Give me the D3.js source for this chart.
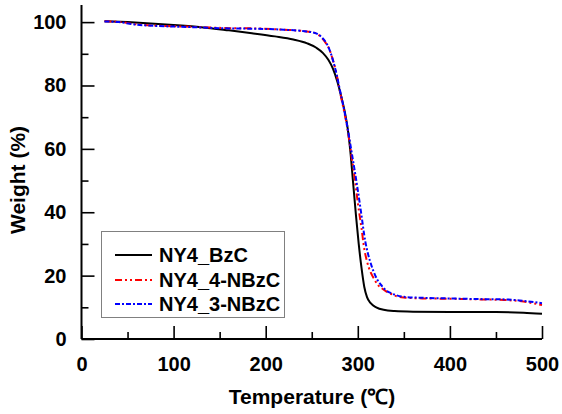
<!DOCTYPE html>
<html>
<head>
<meta charset="utf-8">
<script src="https://cdn.jsdelivr.net/npm/d3@7"></script>
<style>
  html, body { margin: 0; padding: 0; background: #fff; }
  svg { display: block; }
  text { font-family: "Liberation Sans", Arial, sans-serif; font-weight: bold; fill: #000; }
</style>
</head>
<body>
<svg id="chart" width="562" height="414"></svg>
<script>
// TGA curves: temperature (°C) vs. residual weight (%)
const seriesNames = ["NY4_BzC", "NY4_4-NBzC", "NY4_3-NBzC"];
const seriesColors = ["#000000", "#ff0000", "#0000ff"];
const seriesDash = [null, "7,3,2,3,2,3", "5,2,2,2"];

const tempBzC = [25, 50, 75, 100, 130, 160, 185, 210, 230, 245, 255, 262, 268, 273, 278, 282, 286, 289, 292, 295, 298, 301, 304, 307, 310, 314, 320, 328, 340, 360, 400, 450, 480, 500];
const weightBzC = [100.3, 100.0, 99.6, 99.1, 98.4, 97.4, 96.5, 95.5, 94.5, 93.3, 91.9, 90.3, 88.1, 85.3, 81.0, 76.5, 71.5, 66.5, 59, 49, 39, 30, 22.5, 16.5, 13.2, 11.3, 10.0, 9.2, 8.8, 8.6, 8.5, 8.5, 8.3, 8.0];

const temp4NBzC = [25, 40, 60, 80, 100, 130, 160, 190, 220, 240, 250, 256, 261, 265, 269, 273, 277, 281, 285, 289, 293, 297, 300, 304, 307, 310, 314, 318, 322, 326, 330, 335, 342, 350, 370, 400, 430, 460, 480, 500];
const weight4NBzC = [100.3, 100.1, 99.3, 98.9, 98.7, 98.4, 98.1, 98.0, 97.6, 97.2, 96.8, 96.2, 95.0, 93.5, 91.5, 88.0, 83.5, 77.5, 72.0, 66.0, 58.0, 50.0, 43.0, 35.0, 28.5, 24.5, 21.0, 18.8, 17.0, 16.0, 15.2, 14.4, 13.5, 13.1, 12.8, 12.7, 12.5, 12.3, 11.8, 10.7];

const temp3NBzC = [25, 40, 60, 80, 100, 130, 160, 190, 220, 240, 250, 256, 261, 265, 269, 273, 277, 281, 285, 289, 293, 297, 300, 304, 308, 311, 315, 319, 322, 326, 330, 335, 342, 350, 370, 400, 430, 460, 480, 500];
const weight3NBzC = [100.2, 100.0, 99.2, 98.8, 98.6, 98.3, 98.0, 97.9, 97.6, 97.2, 96.8, 96.3, 95.2, 93.8, 91.5, 88.0, 83.5, 78.0, 72.5, 66.5, 59.5, 52.5, 47.0, 39.0, 31.0, 27.0, 23.0, 20.0, 18.3, 16.8, 15.5, 14.6, 13.8, 13.3, 13.0, 12.8, 12.6, 12.5, 12.0, 11.3];

const xTicks = [0, 100, 200, 300, 400, 500];
const yTicks = [0, 20, 40, 60, 80, 100];

const series = [
  { name: seriesNames[0], color: seriesColors[0], dash: seriesDash[0], t: tempBzC, w: weightBzC },
  { name: seriesNames[1], color: seriesColors[1], dash: seriesDash[1], t: temp4NBzC, w: weight4NBzC },
  { name: seriesNames[2], color: seriesColors[2], dash: seriesDash[2], t: temp3NBzC, w: weight3NBzC }
];

const svg = d3.select("#chart");
const x = d3.scaleLinear().domain([0, 500]).range([81.5, 542]);
const y = d3.scaleLinear().domain([0, 105.4]).range([339, 5]);

// curves
const line = d3.line()
  .x(d => x(d[0]))
  .y(d => y(d[1]))
  .curve(d3.curveMonotoneX);

series.forEach(s => {
  const pts = s.t.map((t, i) => [t, s.w[i]]);
  svg.append("path")
    .attr("d", line(pts))
    .attr("fill", "none")
    .attr("stroke", s.color)
    .attr("stroke-width", 2)
    .attr("stroke-dasharray", s.dash);
});

// x axis with inward ticks
const xAxisMajor = d3.axisBottom(x).tickValues(xTicks).tickSize(-13).tickPadding(18).tickFormat(d3.format("d"));
const xAxisMinor = d3.axisBottom(x).tickValues([50, 150, 250, 350, 450]).tickSize(-7).tickFormat("");
const gx = svg.append("g").attr("transform", `translate(0,${y(0)})`);
gx.call(xAxisMajor);
gx.append("g").call(xAxisMinor);

// y axis with inward ticks
const yAxisMajor = d3.axisLeft(y).tickValues(yTicks).tickSize(-13).tickPadding(15).tickFormat(d3.format("d"));
const yAxisMinor = d3.axisLeft(y).tickValues([10, 30, 50, 70, 90]).tickSize(-7).tickFormat("");
const gy = svg.append("g").attr("transform", `translate(${x(0)},0)`);
gy.call(yAxisMajor);
gy.append("g").call(yAxisMinor);

svg.selectAll(".domain").remove();
svg.selectAll(".tick line").attr("stroke", "#000").attr("stroke-width", 1.6);
svg.selectAll(".tick text")
  .style("font-family", "'Liberation Sans', Arial, sans-serif")
  .style("font-weight", "bold")
  .style("font-size", "20px")
  .attr("fill", "#000");

// axis lines
svg.append("line").attr("x1", x(0)).attr("x2", x(500)).attr("y1", y(0)).attr("y2", y(0))
  .attr("stroke", "#000").attr("stroke-width", 2);
svg.append("line").attr("x1", x(0)).attr("x2", x(0)).attr("y1", y(0)).attr("y2", y(105.4))
  .attr("stroke", "#000").attr("stroke-width", 2);

// axis titles
svg.append("text")
  .attr("x", 312).attr("y", 404)
  .attr("text-anchor", "middle")
  .style("font-size", "21px")
  .text("Temperature (℃)");

svg.append("text")
  .attr("transform", "translate(25,180) rotate(-90)")
  .attr("text-anchor", "middle")
  .style("font-size", "21px")
  .text("Weight (%)");

// legend
const lg = svg.append("g");
lg.append("rect")
  .attr("x", 101.5).attr("y", 231.5).attr("width", 183).attr("height", 86)
  .attr("fill", "#fff").attr("stroke", "#808080").attr("stroke-width", 1);
const rowY = [255, 280, 304];
series.forEach((s, i) => {
  lg.append("line")
    .attr("x1", 115).attr("x2", 152).attr("y1", rowY[i]).attr("y2", rowY[i])
    .attr("stroke", s.color).attr("stroke-width", 2)
    .attr("stroke-dasharray", s.dash);
  lg.append("text")
    .attr("x", 159).attr("y", rowY[i] + 7)
    .style("font-size", "20px")
    .text(s.name);
});
</script>
</body>
</html>
